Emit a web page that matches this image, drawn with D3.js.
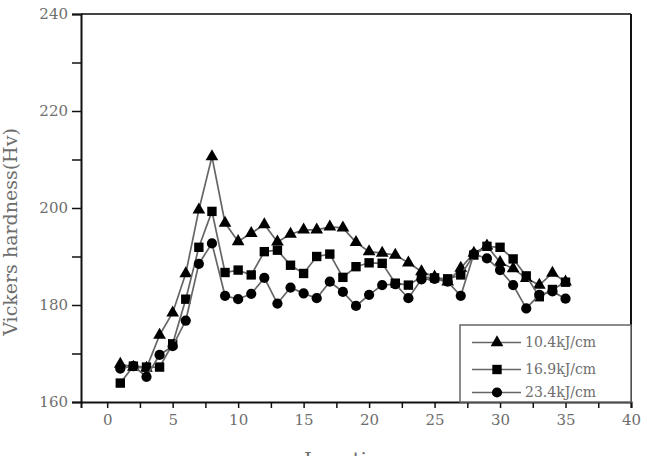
<!DOCTYPE html>
<html>
<head>
<meta charset="utf-8">
<script src="https://cdn.jsdelivr.net/npm/d3@7"></script>
<style>
  html, body { margin: 0; padding: 0; background: #fff; }
  svg { display: block; }
  text { font-family: "DejaVu Serif", serif; fill: #6e6e6e; }
</style>
</head>
<body>
<div id="chart"></div>
<script>
(function() {
  "use strict";

  var locations = d3.range(1, 36);
  var seriesLabels = ["10.4kJ/cm", "16.9kJ/cm", "23.4kJ/cm"];
  var hv104 = [167.8, 167.2, 167.0, 173.8, 178.4, 186.5, 199.6, 210.6, 196.9, 193.1,
               194.8, 196.6, 193.0, 194.6, 195.5, 195.5, 196.1, 195.9, 192.9, 191.0,
               190.7, 190.3, 188.7, 186.9, 185.8, 184.8, 187.6, 190.7, 192.2, 188.8,
               187.5, 185.5, 184.1, 186.6, 184.8];
  var hv169 = [163.9, 167.4, 167.2, 167.2, 172.0, 181.2, 191.9, 199.3, 186.7, 187.2,
               186.2, 191.0, 191.3, 188.2, 186.5, 190.0, 190.5, 185.7, 187.9, 188.7,
               188.6, 184.5, 184.1, 185.8, 185.6, 185.4, 186.2, 190.3, 192.1, 191.9,
               189.5, 186.0, 181.7, 183.2, 184.7];
  var hv234 = [166.9, 167.4, 165.2, 169.7, 171.5, 176.8, 188.5, 192.7, 181.9, 181.2,
               182.3, 185.6, 180.3, 183.6, 182.4, 181.4, 184.8, 182.7, 179.8, 182.1,
               184.1, 184.3, 181.4, 185.3, 185.4, 184.8, 181.9, 190.5, 189.6, 187.2,
               184.1, 179.3, 182.1, 182.8, 181.3];
  var xTicks = [0, 5, 10, 15, 20, 25, 30, 35, 40];
  var yTicks = [160, 180, 200, 220, 240];

  var width = 647, height = 456;
  var margin = { top: 14, right: 16, bottom: 54, left: 81 };

  var svg = d3.select("#chart").append("svg")
    .attr("width", width)
    .attr("height", height);

  var x = d3.scaleLinear().domain([-2, 40]).range([margin.left, width - margin.right]);
  var y = d3.scaleLinear().domain([160, 240]).range([height - margin.bottom, margin.top]);

  var symbols = [
    { type: d3.symbolTriangle, size: 70 },
    { type: d3.symbolSquare, size: 88 },
    { type: d3.symbolCircle, size: 82 }
  ];

  var series = [hv104, hv169, hv234].map(function(vals, i) {
    return {
      label: seriesLabels[i],
      symbol: symbols[i],
      points: locations.map(function(loc, j) { return [loc, vals[j]]; })
    };
  });

  // frame: top and right borders
  svg.append("line")
    .attr("x1", x(-2)).attr("x2", x(40))
    .attr("y1", y(240)).attr("y2", y(240))
    .attr("stroke", "#444").attr("stroke-width", 2);
  svg.append("line")
    .attr("x1", x(40)).attr("x2", x(40))
    .attr("y1", y(240)).attr("y2", y(160))
    .attr("stroke", "#111").attr("stroke-width", 2);

  /* ------- AXES ------- */
  var xAxis = d3.axisBottom(x).tickValues(xTicks).tickSize(6).tickPadding(6);
  var xMinor = d3.axisBottom(x).tickValues(xTicks.slice(0, -1).map(function(t) { return t + 2.5; }))
    .tickSize(6).tickFormat("");
  var yAxis = d3.axisLeft(y).tickValues(yTicks).tickSize(9).tickPadding(4);
  var yMinor = d3.axisLeft(y).tickValues([170, 190, 210, 230]).tickSize(9).tickFormat("");

  function styleAxis(g) {
    g.select(".domain").attr("stroke", "#111").attr("stroke-width", 2);
    g.selectAll(".tick line").attr("stroke", "#111").attr("stroke-width", 1.5);
    g.selectAll(".tick text").attr("font-size", 15).attr("font-family", "DejaVu Serif").attr("fill", "#777");
  }

  var gx = svg.append("g").attr("transform", "translate(0," + y(160) + ")");
  gx.call(xAxis).call(styleAxis);
  svg.append("g").attr("transform", "translate(0," + y(160) + ")")
    .call(xMinor).call(styleAxis).select(".domain").remove();

  var gy = svg.append("g").attr("transform", "translate(" + x(-2) + ",0)");
  gy.call(yAxis).call(styleAxis);
  svg.append("g").attr("transform", "translate(" + x(-2) + ",0)")
    .call(yMinor).call(styleAxis).select(".domain").remove();

  // axis titles (the x title sits at the lower edge, as in the original figure)
  svg.append("text")
    .attr("transform", "translate(17," + 232 + ") rotate(-90)")
    .attr("text-anchor", "middle")
    .attr("font-size", 19)
    .text("Vickers hardness(Hv)");

  svg.append("text")
    .attr("x", 348)
    .attr("y", 467)
    .attr("text-anchor", "middle")
    .attr("font-size", 20)
    .text("Location");

  /* ------- SERIES ------- */
  var line = d3.line()
    .x(function(d) { return x(d[0]); })
    .y(function(d) { return y(d[1]); });

  var groups = svg.selectAll("g.series")
    .data(series)
    .enter()
    .append("g")
    .attr("class", "series");

  groups.append("path")
    .attr("d", function(d) { return line(d.points); })
    .attr("fill", "none")
    .attr("stroke", "#666")
    .attr("stroke-width", 1.7);

  groups.each(function(s) {
    d3.select(this).selectAll("path.pt")
      .data(s.points)
      .enter()
      .append("path")
      .attr("class", "pt")
      .attr("transform", function(d) { return "translate(" + x(d[0]) + "," + y(d[1]) + ")"; })
      .attr("d", d3.symbol().type(s.symbol.type).size(s.symbol.size))
      .attr("fill", "#000");
  });

  /* ------- LEGEND ------- */
  var lgX = 460, lgY = 325, lgW = x(40) - 460, lgH = y(160) - 325;
  var legend = svg.append("g");
  legend.append("rect")
    .attr("x", lgX).attr("y", lgY)
    .attr("width", lgW).attr("height", lgH)
    .attr("fill", "#fff")
    .attr("stroke", "#666")
    .attr("stroke-width", 1.5);

  var rowY = [342.5, 369.5, 392.5];
  var rows = legend.selectAll("g.row")
    .data(series)
    .enter()
    .append("g")
    .attr("class", "row")
    .attr("transform", function(d, i) { return "translate(0," + rowY[i] + ")"; });

  rows.append("line")
    .attr("x1", 472).attr("x2", 521)
    .attr("stroke", "#666").attr("stroke-width", 1.7);
  rows.append("path")
    .attr("transform", "translate(497,0)")
    .attr("d", function(d) { return d3.symbol().type(d.symbol.type).size(d.symbol.size)(); })
    .attr("fill", "#000");
  rows.append("text")
    .attr("x", 525)
    .attr("dy", "0.35em")
    .attr("font-size", 14)
    .text(function(d) { return d.label; });
})();
</script>
</body>
</html>
